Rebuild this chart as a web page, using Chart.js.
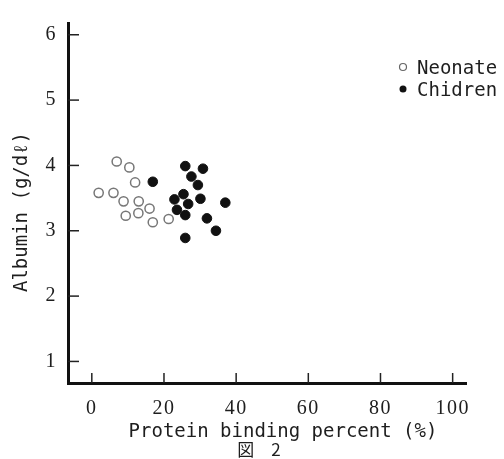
<!DOCTYPE html>
<html><head><meta charset="utf-8">
<script src="https://cdn.jsdelivr.net/npm/chart.js@4/dist/chart.umd.min.js"></script>
<style>html,body{margin:0;padding:0;background:#fff}#wrap{width:504px;height:459px}</style>
</head><body><div id="wrap"><canvas id="c" width="504" height="459"></canvas></div>
<script>
const neonateX = [6.9, 10.4, 12.0, 1.9, 6.0, 8.8, 13.0, 16.0, 9.4, 12.9, 16.9, 21.3];
const neonateY = [4.06, 3.97, 3.74, 3.58, 3.58, 3.45, 3.45, 3.34, 3.23, 3.27, 3.13, 3.18];
const childrenX = [25.9, 30.8, 16.9, 27.6, 29.4, 25.4, 22.9, 30.1, 26.7, 37.0, 23.6, 25.9, 31.9, 34.4, 25.9];
const childrenY = [3.99, 3.95, 3.75, 3.83, 3.70, 3.56, 3.48, 3.49, 3.41, 3.43, 3.32, 3.24, 3.19, 3.00, 2.89];
const xTicks = [0, 20, 40, 60, 80, 100];
const yTicks = [1, 2, 3, 4, 5, 6];
const seriesNames = ['Neonate', 'Chidren'];
const xTitle = 'Protein binding percent (%)';
const yTitle = 'Albumin (g/dℓ)';
const figLabel = '図　2';

const toPts = (xs, ys) => xs.map((x, i) => ({x: x, y: ys[i]}));

const decor = {
  id: 'decor',
  beforeDraw(chart) {
    try { chart.ctx.letterSpacing = '1.5px'; } catch (e) {}
  },
  afterDraw(chart) {
    const ctx = chart.ctx;
    const xs = chart.scales.x, ys = chart.scales.y;
    const a = chart.chartArea;
    ctx.save();
    try { ctx.letterSpacing = '0px'; } catch (e) {}
    ctx.strokeStyle = '#222';
    ctx.lineWidth = 1.5;
    xs.ticks.forEach(t => {
      const px = xs.getPixelForValue(t.value);
      ctx.beginPath(); ctx.moveTo(px, a.bottom); ctx.lineTo(px, a.bottom - 10); ctx.stroke();
    });
    ys.ticks.forEach(t => {
      const py = ys.getPixelForValue(t.value);
      ctx.beginPath(); ctx.moveTo(a.left, py); ctx.lineTo(a.left + 11, py); ctx.stroke();
    });
    // axis titles
    ctx.fillStyle = '#1e1e1e';
    ctx.font = '19px "DejaVu Sans Mono", "Liberation Mono", monospace';
    ctx.textAlign = 'center';
    ctx.textBaseline = 'middle';
    ctx.fillText(xTitle, 283, 432);
    ctx.save();
    ctx.translate(22, 212);
    ctx.rotate(-Math.PI / 2);
    ctx.fillText(yTitle, 0, 0);
    ctx.restore();
    // figure label
    ctx.font = '17px "Noto Sans CJK JP", sans-serif';
    ctx.fillText(figLabel, 259, 450);
    // legend
    const ds = chart.data.datasets;
    const rows = [67, 89];
    ds.forEach((d, i) => {
      ctx.beginPath();
      ctx.arc(403, rows[i], 3.5, 0, Math.PI * 2);
      if (i === 0) { ctx.fillStyle = '#fff'; ctx.fill(); ctx.strokeStyle = '#666'; ctx.lineWidth = 1.2; ctx.stroke(); }
      else { ctx.fillStyle = '#111'; ctx.fill(); }
      ctx.fillStyle = '#1e1e1e';
      ctx.font = '19px "DejaVu Sans Mono", "Liberation Mono", monospace';
      ctx.textAlign = 'left';
      ctx.fillText(d.label, 417, rows[i] + 2);
    });
    ctx.restore();
  }
};

new Chart(document.getElementById('c'), {
  type: 'scatter',
  data: {
    datasets: [
      { label: seriesNames[0], data: toPts(neonateX, neonateY), pointStyle: 'circle', pointRadius: 4.6,
        backgroundColor: '#fff', borderColor: '#777', borderWidth: 1.5 },
      { label: seriesNames[1], data: toPts(childrenX, childrenY), pointStyle: 'circle', pointRadius: 4.8,
        backgroundColor: '#111', borderColor: '#111', borderWidth: 1 }
    ]
  },
  options: {
    responsive: false,
    animation: false,
    devicePixelRatio: 1,
    events: [],
    layout: { padding: { left: 0, top: 12, right: 38, bottom: 0 } },
    plugins: { legend: { display: false }, tooltip: { enabled: false }, title: { display: false } },
    scales: {
      x: {
        type: 'linear', min: -6.6, max: 103.7,
        afterBuildTicks: s => { s.ticks = xTicks.map(v => ({value: v})); },
        afterFit: s => { s.height = 76; },
        grid: { display: false, drawTicks: false },
        border: { display: true, color: '#111', width: 3 },
        ticks: { color: '#1e1e1e', padding: 14, maxRotation: 0, autoSkip: false,
                 font: { family: '"Liberation Serif", "DejaVu Serif", serif', size: 20 } }
      },
      y: {
        type: 'linear', min: 0.67, max: 6.18,
        afterBuildTicks: s => { s.ticks = yTicks.map(v => ({value: v})); },
        afterFit: s => { s.width = 68; },
        grid: { display: false, drawTicks: false },
        border: { display: true, color: '#111', width: 3 },
        ticks: { color: '#1e1e1e', padding: 11, autoSkip: false,
                 font: { family: '"Liberation Serif", "DejaVu Serif", serif', size: 20 } }
      }
    }
  },
  plugins: [decor]
});
</script>
</body></html>
